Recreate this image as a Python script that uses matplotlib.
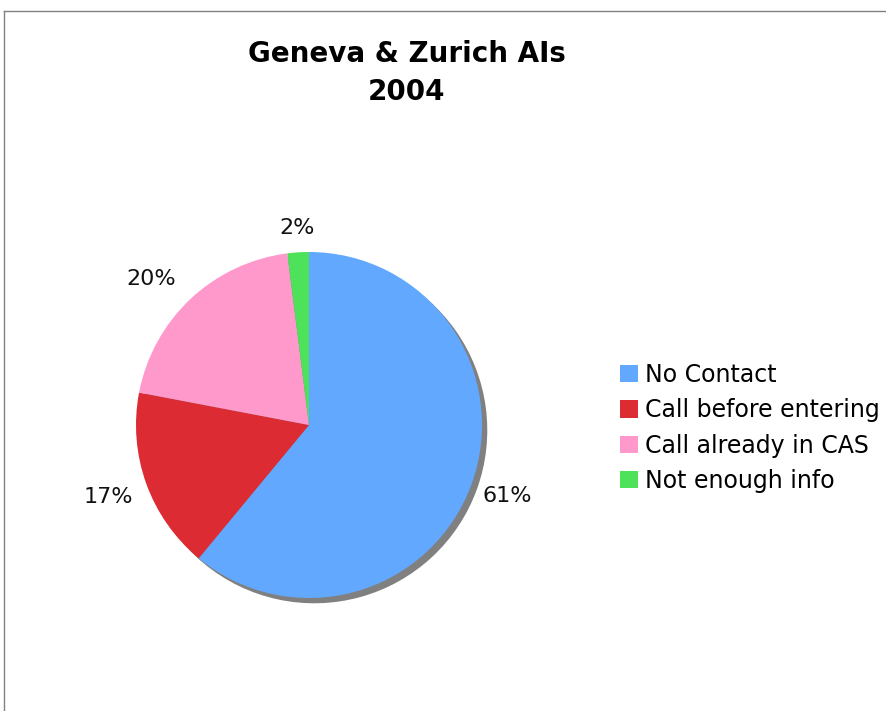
import matplotlib
matplotlib.use('Agg')
import numpy as np
import matplotlib.pyplot as plt
from matplotlib.lines import Line2D

# ── Data ───────────────────────────────────────────────────────────────────
categories = ['No Contact', 'Call before entering', 'Call already in CAS', 'Not enough info']
shares = [61, 17, 20, 2]
colors = ['#62a8fe', '#dc2b33', '#ff99cc', '#4de25a']
title = 'Geneva & Zurich AIs\n2004'

plt.rcParams.update({
    'font.family': 'DejaVu Sans',
    'font.size': 16,
})

W, H = 886, 711
fig = plt.figure(figsize=(W / 100, H / 100), dpi=100)

# pie centre ~ (309, 425) px, radius ~173 px; axes spans +-1.5 units
R = 173
half = 1.5 * R
cx, cy = 309, 425
ax = fig.add_axes([(cx - half) / W, (H - cy - half) / H, 2 * half / W, 2 * half / H])

wedges, texts, autotexts = ax.pie(
    shares, colors=colors, startangle=90, counterclock=False,
    autopct='%.0f%%', pctdistance=1.22,
    shadow={'ox': 0.022, 'oy': -0.022, 'facecolor': '#808080',
            'edgecolor': 'none', 'alpha': 1.0},
    wedgeprops={'linewidth': 0},
    textprops={'fontsize': 16, 'color': '#111111'},
)

# Excel places the outside labels at slightly different distances / angles
for w, t, d, da in zip(wedges, autotexts, [1.22, 1.23, 1.24, 1.14], [0, 0, 4, 0]):
    ang = np.deg2rad((w.theta1 + w.theta2) / 2 + da)
    t.set_position((d * np.cos(ang), d * np.sin(ang)))

ax.set_xlim(-1.5, 1.5)
ax.set_ylim(-1.5, 1.5)
ax.set_aspect('equal')
ax.axis('off')

fig.text(407 / W, 1 - 73 / H, title, ha='center', va='center',
         fontsize=20, fontweight='bold', linespacing=1.45, color='black')

fig.legend(wedges, categories, loc='center left',
           bbox_to_anchor=(620 / W, 1 - 428 / H),
           frameon=False, fontsize=17, borderpad=0, borderaxespad=0,
           handlelength=0.76, handleheight=0.76, handletextpad=0.3,
           labelspacing=0.48)

# chart-area border (top and left edges)
fig.add_artist(Line2D([4 / W, 1], [1 - 11 / H, 1 - 11 / H], color='#808080', lw=1))
fig.add_artist(Line2D([4 / W, 4 / W], [0, 1 - 11 / H], color='#808080', lw=1))

fig.savefig('out.png', dpi=100, facecolor='white')
